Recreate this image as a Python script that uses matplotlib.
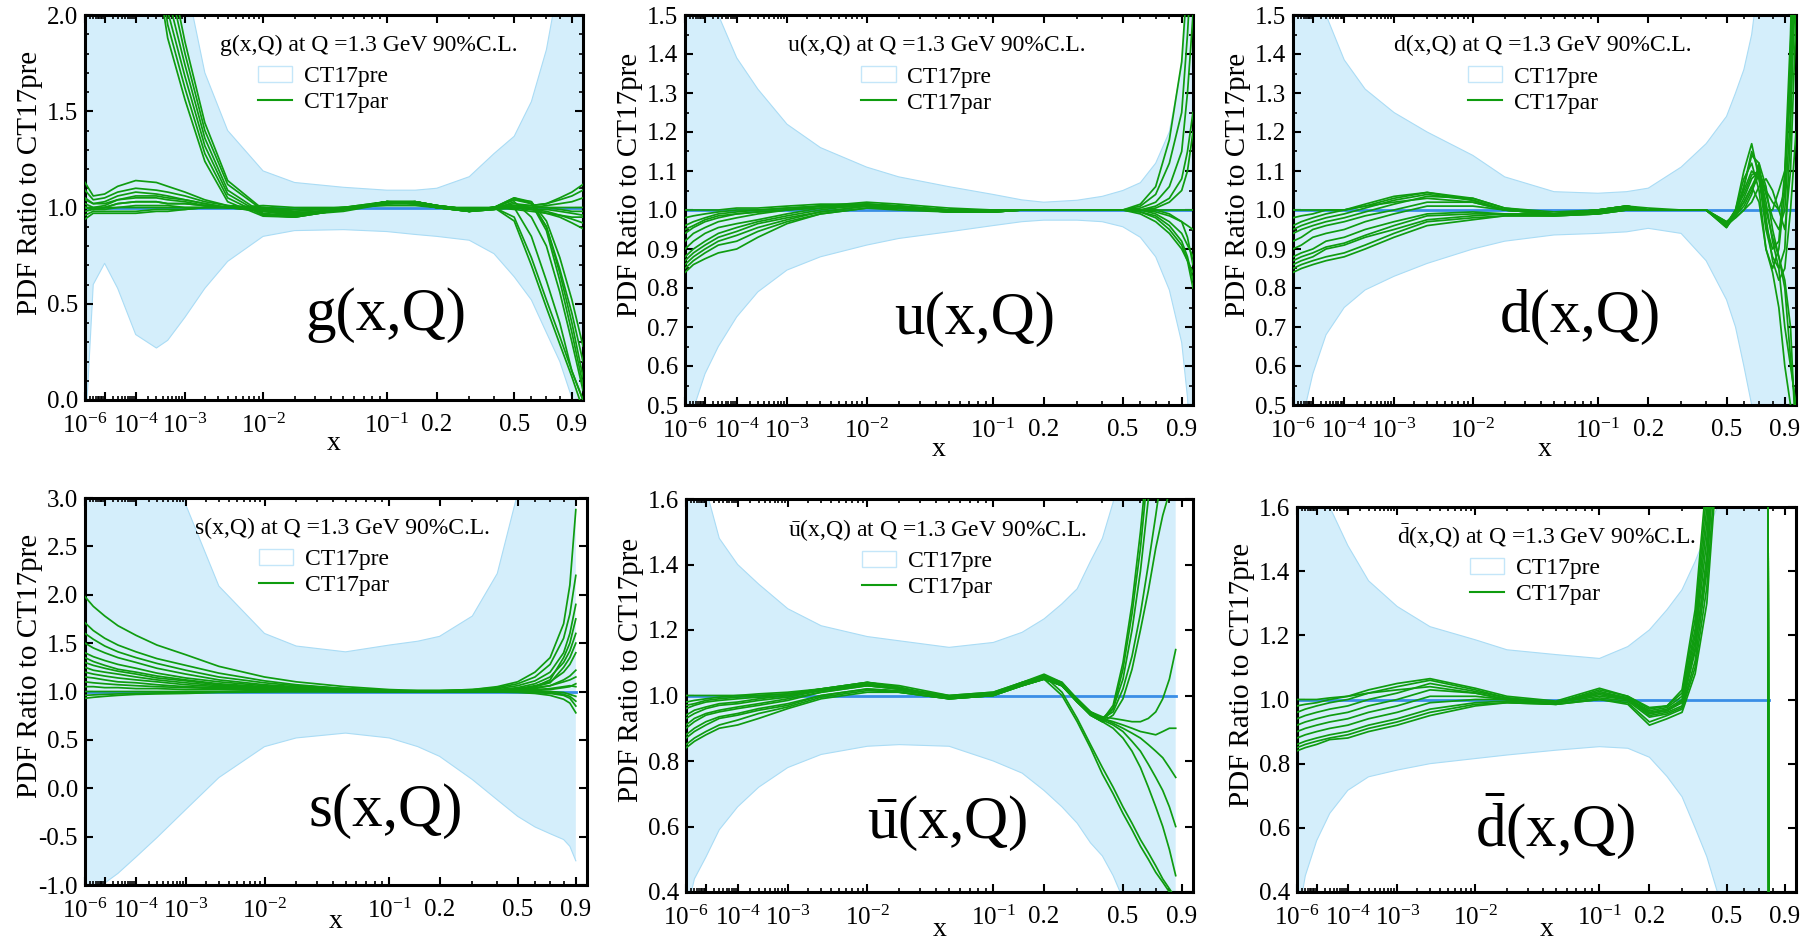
import numpy as np
import matplotlib
matplotlib.use("Agg")
import matplotlib.pyplot as plt
from matplotlib.patches import Patch
from matplotlib.lines import Line2D
from matplotlib.ticker import FixedLocator, FixedFormatter, MultipleLocator, FormatStrFormatter

plt.rcParams["font.family"] = ["Liberation Serif", "DejaVu Serif"]
plt.rcParams["mathtext.fontset"] = "custom"
plt.rcParams["mathtext.rm"] = "Liberation Serif"
plt.rcParams["mathtext.it"] = "Liberation Serif:italic"
plt.rcParams["mathtext.bf"] = "Liberation Serif:bold"
plt.rcParams["axes.unicode_minus"] = False

BAND = "#d4eefb"
BAND_EDGE = "#aadcf5"
GREEN = "#0f9c0f"
CENTRAL = "#3a8ee6"

# ---- gluon ----
X_G = [1e-6, 3e-6, 1e-5, 3e-5, 1e-4, 3e-4, 5e-4, 1e-3, 2e-3, 4e-3, 1e-2, 2e-2,
       5e-2, 0.1, 0.15, 0.2, 0.3, 0.4, 0.5, 0.6, 0.7, 0.8, 0.9, 1.0]
G_HI = [3.0, 3.0, 3.0, 3.0, 3.0, 3.0, 3.0, 2.2, 1.7, 1.4, 1.19, 1.13,
        1.105, 1.09, 1.09, 1.10, 1.16, 1.28, 1.37, 1.55, 1.82, 2.2, 3.0, 3.0]
G_LO = [-0.2, 0.6, 0.71, 0.58, 0.34, 0.27, 0.31, 0.43, 0.58, 0.72, 0.85, 0.88,
        0.885, 0.875, 0.86, 0.85, 0.83, 0.76, 0.64, 0.52, 0.35, 0.2, 0.01, -0.3]
G_PAR = [
    [1.13, 1.06, 1.07, 1.11, 1.14, 1.13, 1.11, 1.08, 1.04, 1.01, 0.99, 0.98, 1.0, 1.03, 1.03, 1.01, 0.99, 1.0, 1.02, 1.01, 1.02, 1.05, 1.08, 1.12],
    [1.09, 1.04, 1.05, 1.08, 1.10, 1.09, 1.08, 1.06, 1.03, 1.01, 1.0, 0.99, 1.0, 1.03, 1.03, 1.01, 0.99, 1.0, 1.01, 1.01, 1.02, 1.04, 1.06, 1.09],
    [1.05, 1.02, 1.03, 1.06, 1.08, 1.07, 1.06, 1.04, 1.02, 1.0, 0.99, 0.97, 0.99, 1.02, 1.03, 1.01, 0.98, 0.99, 1.01, 1.0, 1.01, 1.02, 1.03, 1.05],
    [1.02, 1.0, 1.01, 1.04, 1.05, 1.05, 1.04, 1.03, 1.01, 1.0, 0.98, 0.96, 0.98, 1.02, 1.03, 1.01, 0.98, 0.99, 1.0, 1.0, 1.0, 1.0, 1.0, 1.0],
    [1.0, 0.99, 1.0, 1.02, 1.03, 1.03, 1.02, 1.02, 1.01, 1.0, 0.98, 0.96, 0.99, 1.03, 1.03, 1.01, 0.99, 1.0, 1.0, 0.99, 0.99, 0.98, 0.97, 0.96],
    [0.98, 0.99, 0.99, 1.0, 1.01, 1.01, 1.01, 1.0, 1.0, 1.0, 0.99, 0.97, 0.99, 1.03, 1.03, 1.0, 0.99, 1.0, 1.0, 0.99, 0.98, 0.96, 0.94, 0.92],
    [0.96, 0.98, 0.98, 0.98, 0.98, 0.99, 0.99, 0.99, 1.0, 1.0, 1.0, 0.98, 1.0, 1.02, 1.02, 1.01, 0.99, 1.0, 1.0, 0.99, 0.97, 0.95, 0.92, 0.89],
    [0.94, 0.97, 0.97, 0.97, 0.97, 0.98, 0.98, 0.99, 1.0, 1.0, 1.01, 1.0, 1.0, 1.01, 1.01, 1.0, 1.0, 1.0, 0.99, 0.98, 0.97, 0.96, 0.95, 0.95],
    [1.0, 1.0, 1.0, 1.0, 1.0, 1.0, 1.0, 1.0, 1.0, 1.0, 1.0, 0.99, 1.0, 1.02, 1.02, 1.0, 0.99, 1.0, 1.01, 1.0, 1.0, 0.99, 0.98, 0.98],
    [1.0, 0.99, 1.0, 1.02, 1.03, 1.03, 1.02, 1.02, 1.01, 1.0, 0.99, 0.97, 0.99, 1.03, 1.03, 1.01, 0.99, 1.0, 0.93, 0.70, 0.48, 0.29, 0.12, -0.05],
    [1.04, 1.02, 1.02, 1.04, 1.06, 1.06, 1.05, 1.04, 1.02, 1.0, 0.99, 0.97, 0.99, 1.02, 1.03, 1.01, 0.99, 1.0, 0.95, 0.74, 0.52, 0.33, 0.15, 0.0],
    [6, 6, 6, 5, 3.6, 2.25, 1.88, 1.56, 1.24, 1.03, 0.955, 0.95, 0.99, 1.03, 1.025, 1.0, 0.98, 1.0, 1.05, 1.03, 0.90, 0.66, 0.40, 0.12],
    [6, 6, 6, 5, 3.8, 2.35, 1.95, 1.62, 1.28, 1.05, 0.96, 0.95, 0.99, 1.03, 1.02, 1.0, 0.98, 1.0, 1.05, 1.02, 0.88, 0.62, 0.35, 0.08],
    [6, 6, 6, 5.2, 4.0, 2.45, 2.02, 1.68, 1.32, 1.07, 0.965, 0.95, 0.99, 1.03, 1.02, 1.0, 0.98, 1.0, 1.04, 1.02, 0.9, 0.68, 0.45, 0.2],
    [6, 6, 6, 5.3, 4.1, 2.55, 2.1, 1.74, 1.36, 1.09, 0.97, 0.955, 0.99, 1.03, 1.02, 1.0, 0.98, 1.0, 1.04, 1.03, 0.93, 0.74, 0.52, 0.28],
    [6, 6, 6, 5.5, 4.3, 2.7, 2.2, 1.80, 1.40, 1.12, 0.985, 0.96, 0.99, 1.03, 1.02, 1.0, 0.98, 0.99, 1.03, 0.95, 0.80, 0.56, 0.30, 0.05],
    [6, 6, 6, 5.5, 4.4, 2.8, 2.3, 1.86, 1.44, 1.14, 0.99, 0.965, 0.99, 1.03, 1.02, 1.0, 0.98, 0.99, 1.0, 0.85, 0.62, 0.40, 0.15, 0.0],
]

# ---- u quark ----
X_U = [1e-6, 3e-6, 1e-5, 3e-5, 1e-4, 3e-4, 1e-3, 3e-3, 1e-2, 2e-2, 5e-2, 0.1,
       0.15, 0.2, 0.3, 0.4, 0.5, 0.6, 0.7, 0.8, 0.9, 0.95, 1.0]
U_HI = [1.9, 1.75, 1.62, 1.5, 1.39, 1.31, 1.22, 1.16, 1.11, 1.085, 1.06, 1.04,
        1.026, 1.02, 1.025, 1.035, 1.05, 1.07, 1.12, 1.2, 1.37, 1.55, 1.8]
U_LO = [0.3, 0.49, 0.58, 0.65, 0.726, 0.79, 0.846, 0.88, 0.91, 0.927, 0.944, 0.96,
        0.97, 0.974, 0.974, 0.97, 0.957, 0.93, 0.88, 0.795, 0.66, 0.52, 0.3]
U_PAR = [
    [0.84, 0.86, 0.875, 0.89, 0.9, 0.93, 0.965, 0.99, 1.005, 1.0, 0.995, 0.995, 1.0, 1.0, 1.0, 1.0, 1.0, 0.99, 0.97, 0.94, 0.9, 0.87, 0.84],
    [0.86, 0.88, 0.9, 0.92, 0.935, 0.955, 0.975, 0.995, 1.01, 1.005, 0.995, 0.995, 1.0, 1.0, 1.0, 1.0, 1.0, 1.0, 0.99, 0.97, 0.94, 0.91, 0.88],
    [0.88, 0.9, 0.92, 0.94, 0.955, 0.97, 0.985, 1.0, 1.015, 1.01, 1.0, 0.995, 1.0, 1.0, 1.0, 1.0, 1.0, 1.0, 0.995, 0.985, 0.97, 0.96, 0.95],
    [0.9, 0.92, 0.94, 0.955, 0.965, 0.975, 0.99, 1.005, 1.015, 1.01, 1.0, 0.995, 1.0, 1.0, 1.0, 1.0, 1.0, 1.0, 1.0, 1.0, 1.0, 1.0, 1.0],
    [0.92, 0.94, 0.955, 0.97, 0.98, 0.99, 1.0, 1.01, 1.02, 1.015, 1.005, 1.0, 1.0, 1.0, 1.0, 1.0, 1.0, 1.0, 1.01, 1.03, 1.08, 1.15, 1.25],
    [0.94, 0.955, 0.97, 0.98, 0.99, 0.995, 1.0, 1.01, 1.015, 1.01, 1.0, 1.0, 1.0, 1.0, 1.0, 1.0, 1.0, 1.005, 1.02, 1.06, 1.15, 1.3, 1.5],
    [0.96, 0.97, 0.98, 0.99, 0.995, 1.0, 1.005, 1.01, 1.01, 1.005, 1.0, 1.0, 1.0, 1.0, 1.0, 1.0, 1.0, 1.01, 1.04, 1.12, 1.25, 1.45, 1.7],
    [0.98, 0.985, 0.99, 0.995, 1.0, 1.0, 1.005, 1.01, 1.01, 1.005, 1.0, 1.0, 1.0, 1.0, 1.0, 1.0, 1.0, 1.015, 1.06, 1.18, 1.38, 1.6, 1.9],
    [1.0, 1.0, 1.0, 1.0, 1.005, 1.005, 1.01, 1.015, 1.015, 1.01, 1.0, 1.0, 1.0, 1.0, 1.0, 1.0, 1.0, 1.0, 1.0, 0.99, 0.97, 0.93, 0.86],
    [0.85, 0.87, 0.89, 0.91, 0.92, 0.945, 0.97, 0.99, 1.005, 1.005, 0.995, 0.995, 1.0, 1.0, 1.0, 1.0, 1.0, 0.995, 0.985, 0.96, 0.92, 0.88, 0.82],
    [0.87, 0.89, 0.91, 0.93, 0.945, 0.965, 0.98, 0.995, 1.01, 1.005, 0.995, 0.995, 1.0, 1.0, 1.0, 1.0, 1.0, 1.0, 1.005, 1.02, 1.05, 1.1, 1.2],
    [0.95, 0.96, 0.975, 0.985, 0.99, 0.995, 1.0, 1.005, 1.01, 1.005, 1.0, 1.0, 1.0, 1.0, 1.0, 1.0, 1.0, 0.995, 0.98, 0.95, 0.91, 0.87, 0.8],
]

# ---- d quark ----
X_D = [1e-6, 3e-6, 1e-5, 3e-5, 1e-4, 3e-4, 1e-3, 3e-3, 1e-2, 2e-2, 5e-2, 0.1, 0.15,
       0.2, 0.3, 0.4, 0.5, 0.55, 0.6, 0.65, 0.7, 0.75, 0.8, 0.85, 0.9, 0.95, 1.0]
D_HI = [2.0, 1.8, 1.6, 1.5, 1.385, 1.31, 1.25, 1.2, 1.14, 1.085, 1.047, 1.043, 1.047,
        1.056, 1.11, 1.17, 1.24, 1.3, 1.36, 1.45, 1.6, 1.8, 2.0, 2.0, 2.0, 2.0, 2.0]
D_LO = [0.3, 0.452, 0.58, 0.68, 0.75, 0.795, 0.83, 0.863, 0.90, 0.92, 0.936, 0.94, 0.944,
        0.953, 0.94, 0.87, 0.77, 0.7, 0.6, 0.5, 0.4, 0.3, 0.2, 0.1, 0.0, 0.0, 0.0]
D_PAR = [
    [0.84, 0.85, 0.86, 0.87, 0.88, 0.9, 0.93, 0.96, 0.975, 0.985, 0.985, 0.99, 1.0, 1.0, 1.0, 1.0, 0.96, 1.0, 1.08, 1.12, 1.05, 0.9, 0.85, 0.9, 1.05, 1.4, 2.0],
    [0.86, 0.87, 0.88, 0.9, 0.91, 0.93, 0.95, 0.975, 0.985, 0.99, 0.985, 0.99, 1.0, 1.0, 1.0, 1.0, 0.955, 0.99, 1.05, 1.1, 1.08, 0.95, 0.88, 0.85, 0.9, 1.2, 1.8],
    [0.88, 0.89, 0.9, 0.92, 0.93, 0.95, 0.97, 0.99, 0.995, 0.99, 0.99, 0.995, 1.005, 1.0, 1.0, 1.0, 0.96, 0.985, 1.02, 1.06, 1.1, 1.02, 0.92, 0.85, 0.7, 0.6, 0.5],
    [0.9, 0.91, 0.93, 0.94, 0.95, 0.97, 0.99, 1.01, 1.01, 1.0, 0.99, 0.995, 1.01, 1.0, 1.0, 1.0, 0.96, 0.98, 1.0, 1.04, 1.12, 1.06, 0.95, 0.88, 0.82, 0.7, 0.4],
    [0.92, 0.93, 0.95, 0.96, 0.97, 0.985, 1.0, 1.02, 1.02, 1.0, 0.99, 1.0, 1.01, 1.0, 1.0, 1.0, 0.965, 1.0, 1.1, 1.17, 1.08, 1.0, 1.0, 1.05, 1.1, 1.3, 1.7],
    [0.94, 0.95, 0.96, 0.97, 0.98, 0.995, 1.015, 1.035, 1.03, 1.005, 0.99, 1.0, 1.01, 1.0, 1.0, 1.0, 0.97, 0.99, 1.03, 1.08, 1.1, 1.04, 0.98, 0.95, 1.0, 1.25, 1.6],
    [0.96, 0.97, 0.98, 0.99, 1.0, 1.01, 1.03, 1.045, 1.03, 1.005, 0.995, 1.0, 1.01, 1.005, 1.0, 1.0, 0.97, 0.98, 1.0, 1.02, 1.06, 1.08, 1.05, 1.0, 0.95, 1.1, 1.5],
    [0.98, 0.985, 0.99, 1.0, 1.0, 1.015, 1.035, 1.045, 1.025, 1.0, 0.99, 1.0, 1.01, 1.0, 1.0, 1.0, 0.965, 0.99, 1.06, 1.14, 1.12, 0.98, 0.87, 0.82, 0.85, 1.0, 1.2],
    [1.0, 1.0, 1.0, 1.0, 1.0, 1.01, 1.02, 1.03, 1.02, 1.0, 0.99, 0.995, 1.005, 1.0, 1.0, 1.0, 0.96, 1.0, 1.04, 1.09, 1.1, 1.05, 1.02, 1.0, 1.05, 1.35, 1.9],
    [0.85, 0.86, 0.87, 0.88, 0.89, 0.91, 0.94, 0.97, 0.98, 0.985, 0.985, 0.99, 1.0, 1.0, 1.0, 1.0, 0.955, 0.99, 1.02, 1.06, 1.02, 0.9, 0.84, 0.75, 0.6, 0.5, 0.45],
    [0.87, 0.88, 0.89, 0.905, 0.915, 0.935, 0.96, 0.985, 0.99, 0.99, 0.988, 0.995, 1.005, 1.0, 1.0, 1.0, 0.958, 0.995, 1.06, 1.15, 1.1, 0.96, 0.9, 0.92, 1.1, 1.45, 2.0],
    [0.95, 0.96, 0.97, 0.98, 0.99, 1.005, 1.025, 1.04, 1.025, 1.0, 0.99, 1.0, 1.01, 1.0, 1.0, 1.0, 0.968, 0.985, 1.01, 1.05, 1.09, 1.0, 0.93, 0.88, 0.8, 0.62, 0.48],
]

# ---- strange ----
X_S = [1e-6, 3e-6, 1e-5, 3e-5, 1e-4, 3e-4, 1e-3, 3e-3, 1e-2, 2e-2, 5e-2, 0.1,
       0.15, 0.2, 0.3, 0.4, 0.5, 0.6, 0.7, 0.8, 0.85, 0.9]
S_HI = [5, 5, 5, 5, 5, 5, 2.93, 2.09, 1.60, 1.47, 1.41, 1.48,
        1.52, 1.57, 1.78, 2.22, 3.05, 4, 5, 5, 5, 5]
S_LO = [-1.35, -1.15, -0.98, -0.88, -0.71, -0.51, -0.22, 0.11, 0.43, 0.52, 0.57, 0.52,
        0.43, 0.33, 0.09, -0.12, -0.29, -0.40, -0.47, -0.53, -0.6, -0.75]
S_PAR = [
    [1.98, 1.88, 1.78, 1.68, 1.58, 1.48, 1.38, 1.26, 1.15, 1.1, 1.05, 1.02, 1.01, 1.01, 1.02, 1.05, 1.1, 1.2, 1.35, 1.7, 2.1, 2.88],
    [1.71, 1.63, 1.55, 1.48, 1.41, 1.34, 1.27, 1.19, 1.11, 1.07, 1.03, 1.01, 1.01, 1.01, 1.02, 1.04, 1.08, 1.15, 1.28, 1.55, 1.8, 2.2],
    [1.6, 1.54, 1.47, 1.41, 1.35, 1.29, 1.22, 1.15, 1.09, 1.06, 1.03, 1.01, 1.0, 1.0, 1.01, 1.03, 1.06, 1.11, 1.2, 1.4, 1.6, 1.9],
    [1.5, 1.45, 1.4, 1.35, 1.3, 1.24, 1.18, 1.12, 1.07, 1.05, 1.02, 1.01, 1.0, 1.0, 1.01, 1.02, 1.04, 1.08, 1.15, 1.3, 1.42, 1.6],
    [1.4, 1.36, 1.32, 1.28, 1.24, 1.19, 1.14, 1.1, 1.06, 1.04, 1.02, 1.0, 1.0, 1.0, 1.0, 1.01, 1.03, 1.06, 1.1, 1.2, 1.28, 1.4],
    [1.35, 1.31, 1.27, 1.23, 1.2, 1.16, 1.12, 1.08, 1.05, 1.03, 1.01, 1.0, 1.0, 1.0, 1.0, 1.01, 1.02, 1.05, 1.12, 1.35, 1.5, 1.75],
    [1.3, 1.27, 1.24, 1.21, 1.18, 1.14, 1.11, 1.07, 1.04, 1.03, 1.01, 1.0, 1.0, 1.0, 1.0, 1.01, 1.02, 1.04, 1.06, 1.12, 1.16, 1.22],
    [1.25, 1.22, 1.2, 1.18, 1.15, 1.12, 1.09, 1.06, 1.035, 1.025, 1.01, 1.0, 1.0, 1.0, 1.0, 1.01, 1.02, 1.05, 1.09, 1.25, 1.35, 1.5],
    [1.2, 1.18, 1.16, 1.14, 1.12, 1.1, 1.07, 1.05, 1.03, 1.02, 1.01, 1.0, 1.0, 1.0, 1.0, 1.0, 1.01, 1.02, 1.03, 1.05, 1.06, 1.05],
    [1.15, 1.14, 1.12, 1.1, 1.09, 1.07, 1.05, 1.04, 1.02, 1.01, 1.0, 1.0, 1.0, 1.0, 1.0, 1.0, 1.01, 1.03, 1.06, 1.1, 1.12, 1.15],
    [1.1, 1.09, 1.08, 1.07, 1.06, 1.05, 1.04, 1.03, 1.02, 1.01, 1.0, 1.0, 1.0, 1.0, 1.0, 1.0, 1.0, 1.0, 1.0, 0.99, 0.97, 0.95],
    [1.05, 1.05, 1.04, 1.04, 1.03, 1.03, 1.02, 1.02, 1.01, 1.0, 1.0, 1.0, 1.0, 1.0, 1.0, 1.0, 1.0, 1.01, 1.02, 1.04, 1.05, 1.08],
    [1.0, 1.0, 1.0, 1.0, 1.0, 1.0, 1.0, 1.0, 1.0, 1.0, 1.0, 1.0, 1.0, 1.0, 1.0, 1.0, 1.0, 1.0, 0.99, 0.97, 0.95, 0.9],
    [0.96, 0.965, 0.97, 0.975, 0.98, 0.985, 0.99, 0.995, 1.0, 1.0, 1.0, 1.0, 1.0, 1.0, 1.0, 1.0, 0.995, 0.99, 0.98, 0.96, 0.93, 0.85],
    [0.93, 0.94, 0.95, 0.96, 0.97, 0.975, 0.98, 0.99, 0.995, 1.0, 1.0, 1.0, 1.0, 1.0, 1.0, 0.995, 0.99, 0.98, 0.96, 0.92, 0.88, 0.78],
]

# ---- u-bar ----
X_UB = [1e-6, 3e-6, 1e-5, 3e-5, 1e-4, 3e-4, 1e-3, 3e-3, 1e-2, 2e-2, 5e-2, 0.1, 0.15, 0.2,
        0.25, 0.3, 0.35, 0.4, 0.45, 0.5, 0.55, 0.6, 0.65, 0.7, 0.75, 0.8, 0.85]
UB_HI = [2.0, 1.85, 1.63, 1.48, 1.40, 1.34, 1.265, 1.213, 1.18, 1.167, 1.147, 1.162, 1.193, 1.234,
         1.28, 1.326, 1.41, 1.48, 1.59, 1.75, 2.0, 2.0, 2.0, 2.0, 2.0, 2.0, 2.0]
UB_LO = [0.33, 0.44, 0.507, 0.59, 0.66, 0.72, 0.78, 0.82, 0.845, 0.85, 0.845, 0.80, 0.763, 0.71,
         0.66, 0.61, 0.55, 0.51, 0.45, 0.38, 0.3, 0.2, 0.1, 0.0, 0.0, 0.0, 0.0]
UB_PAR = [
    [0.84, 0.86, 0.88, 0.9, 0.91, 0.93, 0.96, 0.99, 1.01, 1.01, 0.99, 1.0, 1.03, 1.05, 1.03, 0.99, 0.95, 0.93, 0.96, 1.05, 1.2, 1.38, 1.6, 1.9, 2.2, 2.5, 2.8],
    [0.87, 0.89, 0.91, 0.93, 0.94, 0.955, 0.97, 1.0, 1.02, 1.015, 0.995, 1.005, 1.035, 1.055, 1.03, 0.985, 0.945, 0.925, 0.97, 1.1, 1.28, 1.5, 1.75, 2.0, 2.3, 2.6, 2.9],
    [0.9, 0.92, 0.94, 0.95, 0.96, 0.97, 0.985, 1.01, 1.03, 1.02, 1.0, 1.01, 1.04, 1.06, 1.04, 0.99, 0.95, 0.93, 0.95, 1.02, 1.12, 1.25, 1.4, 1.55, 1.7, 1.9, 2.1],
    [0.93, 0.945, 0.96, 0.97, 0.975, 0.985, 0.995, 1.015, 1.035, 1.02, 0.995, 1.005, 1.04, 1.065, 1.04, 0.985, 0.94, 0.92, 0.94, 0.99, 1.08, 1.2, 1.32, 1.45, 1.55, 1.62, 1.7],
    [0.96, 0.97, 0.98, 0.985, 0.99, 0.995, 1.0, 1.02, 1.04, 1.03, 1.0, 1.01, 1.04, 1.06, 1.035, 0.98, 0.94, 0.92, 0.96, 1.08, 1.25, 1.45, 1.7, 2.0, 2.3, 2.6, 2.9],
    [0.98, 0.985, 0.99, 0.995, 1.0, 1.0, 1.005, 1.02, 1.04, 1.025, 0.99, 1.0, 1.03, 1.05, 1.03, 0.98, 0.945, 0.93, 0.92, 0.91, 0.9, 0.89, 0.885, 0.88, 0.89, 0.9, 0.9],
    [1.0, 1.0, 1.0, 1.0, 1.0, 1.005, 1.01, 1.02, 1.03, 1.02, 0.995, 1.005, 1.03, 1.05, 1.03, 0.985, 0.95, 0.935, 0.93, 0.925, 0.92, 0.92, 0.93, 0.95, 0.99, 1.05, 1.14],
    [0.85, 0.87, 0.89, 0.91, 0.925, 0.945, 0.965, 0.995, 1.015, 1.01, 0.99, 1.0, 1.03, 1.05, 1.0, 0.92, 0.84, 0.76, 0.70, 0.64, 0.59, 0.54, 0.50, 0.46, 0.43, 0.40, 0.36],
    [0.88, 0.9, 0.92, 0.935, 0.945, 0.96, 0.975, 1.0, 1.02, 1.01, 0.99, 1.0, 1.035, 1.06, 1.01, 0.93, 0.85, 0.78, 0.72, 0.66, 0.61, 0.56, 0.52, 0.48, 0.44, 0.41, 0.38],
    [0.91, 0.93, 0.945, 0.955, 0.965, 0.975, 0.99, 1.01, 1.03, 1.02, 0.995, 1.005, 1.035, 1.055, 1.03, 0.98, 0.94, 0.92, 0.9, 0.87, 0.83, 0.78, 0.72, 0.66, 0.6, 0.53, 0.45],
    [0.94, 0.955, 0.965, 0.975, 0.98, 0.99, 1.0, 1.015, 1.035, 1.02, 0.995, 1.005, 1.035, 1.055, 1.03, 0.98, 0.945, 0.925, 0.91, 0.89, 0.86, 0.83, 0.79, 0.75, 0.71, 0.66, 0.6],
    [0.97, 0.975, 0.985, 0.99, 0.995, 1.0, 1.005, 1.02, 1.04, 1.025, 0.995, 1.005, 1.035, 1.06, 1.035, 0.985, 0.945, 0.93, 0.915, 0.9, 0.885, 0.87, 0.85, 0.83, 0.81, 0.78, 0.75],
]

# ---- d-bar ----
X_DB = [1e-6, 3e-6, 1e-5, 3e-5, 1e-4, 3e-4, 1e-3, 3e-3, 1e-2, 2e-2, 5e-2, 0.1, 0.15,
        0.2, 0.25, 0.3, 0.35, 0.4, 0.45, 0.5, 0.6, 0.7, 0.75, 0.76, 0.77]
DB_HI = [2.0, 1.85, 1.7, 1.6, 1.48, 1.37, 1.29, 1.227, 1.186, 1.155, 1.14, 1.128, 1.165,
         1.217, 1.28, 1.342, 1.43, 1.52, 1.6, 1.75, 2.0, 2.0, 2.0, 2.0, 2.0]
DB_LO = [0.3, 0.45, 0.56, 0.645, 0.717, 0.759, 0.78, 0.80, 0.816, 0.827, 0.842, 0.853, 0.848,
         0.82, 0.76, 0.697, 0.6, 0.51, 0.4, 0.3, 0.1, 0.0, 0.0, 0.0, 0.0]
DB_PAR = [
    [0.84, 0.85, 0.86, 0.875, 0.88, 0.9, 0.92, 0.95, 0.98, 0.99, 0.985, 1.0, 0.99, 0.93, 0.95, 0.97, 1.1, 1.35, 1.8, 2.3, 3, 3, 3, 2.6, 0.0],
    [0.86, 0.87, 0.88, 0.89, 0.9, 0.92, 0.94, 0.97, 0.99, 0.995, 0.985, 1.005, 0.995, 0.945, 0.955, 0.975, 1.12, 1.4, 1.9, 2.4, 3, 3, 3, 2.6, 0.0],
    [0.88, 0.89, 0.9, 0.91, 0.92, 0.94, 0.96, 0.99, 1.0, 1.0, 0.99, 1.01, 1.0, 0.95, 0.96, 0.98, 1.15, 1.45, 1.95, 2.5, 3, 3, 3, 2.6, 0.0],
    [0.9, 0.91, 0.92, 0.93, 0.94, 0.96, 0.98, 1.01, 1.01, 1.0, 0.99, 1.015, 1.0, 0.955, 0.965, 0.99, 1.18, 1.5, 2.0, 2.5, 3, 3, 3, 2.6, 0.0],
    [0.92, 0.93, 0.94, 0.95, 0.96, 0.98, 1.0, 1.03, 1.02, 1.0, 0.99, 1.02, 1.005, 0.96, 0.97, 1.0, 1.2, 1.55, 2.05, 2.6, 3, 3, 3, 2.6, 0.0],
    [0.94, 0.95, 0.96, 0.97, 0.98, 1.0, 1.02, 1.05, 1.025, 1.005, 0.99, 1.025, 1.005, 0.965, 0.975, 1.01, 1.22, 1.6, 2.1, 2.6, 3, 3, 3, 2.6, 0.0],
    [0.96, 0.97, 0.98, 0.99, 1.0, 1.02, 1.04, 1.06, 1.03, 1.005, 0.99, 1.03, 1.01, 0.97, 0.98, 1.02, 1.25, 1.65, 2.2, 2.7, 3, 3, 3, 2.6, 0.0],
    [0.98, 0.985, 0.99, 1.0, 1.01, 1.03, 1.05, 1.065, 1.035, 1.01, 0.995, 1.035, 1.01, 0.975, 0.98, 1.03, 1.28, 1.7, 2.2, 2.7, 3, 3, 3, 2.6, 0.0],
    [1.0, 1.0, 1.0, 1.005, 1.01, 1.02, 1.03, 1.04, 1.02, 1.0, 0.99, 1.02, 1.0, 0.96, 0.965, 0.995, 1.16, 1.42, 1.9, 2.4, 3, 3, 3, 2.6, 0.0],
    [0.85, 0.86, 0.87, 0.88, 0.89, 0.91, 0.93, 0.96, 0.985, 0.99, 0.985, 1.0, 0.985, 0.92, 0.94, 0.96, 1.08, 1.3, 1.75, 2.2, 3, 3, 3, 2.6, 0.0],
]

# x axis ticks shared by all panels
X_MAJOR = [1e-6, 1e-5, 1e-4, 1e-3, 1e-2, 0.1, 0.2, 0.5, 0.9]
X_MAJOR_LABELS = [r"$10^{-6}$", "", r"$10^{-4}$", r"$10^{-3}$", r"$10^{-2}$",
                  r"$10^{-1}$", "0.2", "0.5", "0.9"]
X_MINOR = [m * 10.0 ** e for e in range(-6, -1) for m in range(2, 10)] + [0.3, 0.4, 0.6, 0.7, 0.8, 1.0]

# axes boxes in pixels: left, top, right, bottom
FIG_W, FIG_H = 1809, 940
BOXES = [(85, 15, 583, 400), (685, 15, 1193, 405), (1293, 15, 1796, 405),
         (85, 498, 587, 885), (686, 499, 1193, 892), (1297, 507, 1796, 892)]

PANELS = [
    dict(x=X_G, hi=G_HI, lo=G_LO, par=G_PAR, ylim=(0.0, 2.0), major=0.5, minor=0.1,
         name="g(x,Q)", title="g(x,Q) at Q =1.3 GeV 90%C.L.", name_xy=(0.605, 0.22), title_x=0.57),
    dict(x=X_U, hi=U_HI, lo=U_LO, par=U_PAR, ylim=(0.5, 1.5), major=0.1, minor=0.05,
         name="u(x,Q)", title="u(x,Q) at Q =1.3 GeV 90%C.L.", name_xy=(0.57, 0.22), title_x=0.496),
    dict(x=X_D, hi=D_HI, lo=D_LO, par=D_PAR, ylim=(0.5, 1.5), major=0.1, minor=0.05,
         name="d(x,Q)", title="d(x,Q) at Q =1.3 GeV 90%C.L.", name_xy=(0.572, 0.225), title_x=0.497),
    dict(x=X_S, hi=S_HI, lo=S_LO, par=S_PAR, ylim=(-1.0, 3.0), major=0.5, minor=None,
         name="s(x,Q)", title="s(x,Q) at Q =1.3 GeV 90%C.L.", name_xy=(0.598, 0.19), title_x=0.513),
    dict(x=X_UB, hi=UB_HI, lo=UB_LO, par=UB_PAR, ylim=(0.4, 1.6), major=0.2, minor=None,
         name=r"$\bar{\mathrm{u}}$(x,Q)", title=r"$\bar{\mathrm{u}}$(x,Q) at Q =1.3 GeV 90%C.L.",
         name_xy=(0.515, 0.175), title_x=0.496),
    dict(x=X_DB, hi=DB_HI, lo=DB_LO, par=DB_PAR, ylim=(0.4, 1.6), major=0.2, minor=None,
         name=r"$\bar{\mathrm{d}}$(x,Q)", title=r"$\bar{\mathrm{d}}$(x,Q) at Q =1.3 GeV 90%C.L.",
         name_xy=(0.518, 0.17), title_x=0.5),
]


def _fwd(x):
    return np.power(np.clip(x, 1e-12, None), 0.2)


def _inv(y):
    return np.power(np.clip(y, 0.0, None), 5.0)


def draw_panel(ax, p, width_px, height_px, bottom_row):
    ax.set_xscale("function", functions=(_fwd, _inv))
    ax.set_xlim(1e-6, 1.0)
    ax.set_ylim(*p["ylim"])

    ax.fill_between(p["x"], p["lo"], p["hi"], facecolor=BAND, edgecolor="none", zorder=1)
    ax.plot(p["x"], p["hi"], color=BAND_EDGE, lw=0.8, zorder=1.5)
    ax.plot(p["x"], p["lo"], color=BAND_EDGE, lw=0.8, zorder=1.5)
    ax.plot([p["x"][0], p["x"][-1]], [1.0, 1.0], color=CENTRAL, lw=2.0, zorder=2)
    for curve in p["par"]:
        ax.plot(p["x"], curve, color=GREEN, lw=1.25, zorder=3)

    ax.xaxis.set_major_locator(FixedLocator(X_MAJOR))
    ax.xaxis.set_major_formatter(FixedFormatter(X_MAJOR_LABELS))
    ax.xaxis.set_minor_locator(FixedLocator(X_MINOR))
    ax.yaxis.set_major_locator(MultipleLocator(p["major"]))
    ax.yaxis.set_major_formatter(FormatStrFormatter("%.1f"))
    if p["minor"]:
        ax.yaxis.set_minor_locator(MultipleLocator(p["minor"]))
    else:
        ax.yaxis.set_minor_locator(FixedLocator([]))

    ax.tick_params(which="both", direction="in", top=True, right=True, labelsize=18)
    ax.tick_params(which="major", length=6, width=1.5)
    ax.tick_params(which="minor", length=3, width=1.2)
    ax.tick_params(axis="x", which="major", pad=10)
    ax.tick_params(axis="y", which="major", pad=5)
    for sp in ax.spines.values():
        sp.set_linewidth(2.2)

    ax.set_xlabel("x", fontsize=20, va="center")
    ax.set_ylabel("PDF Ratio to CT17pre", fontsize=21, va="center")
    # label centres measured in pixels from the spines
    x_drop = 37 if bottom_row else 44
    ax.xaxis.set_label_coords(0.5, -x_drop / height_px)
    ax.yaxis.set_label_coords(-55 / width_px, 0.565)

    ax.text(p["title_x"], 0.922, p["title"], transform=ax.transAxes,
            ha="center", va="center", fontsize=17, zorder=5)
    ax.text(p["name_xy"][0], p["name_xy"][1], p["name"], transform=ax.transAxes,
            ha="center", va="center", fontsize=44, zorder=5)

    handles = [Patch(facecolor="white", edgecolor="#c4e6f9", lw=1.0),
               Line2D([], [], color=GREEN, lw=1.5)]
    ax.legend(handles, ["CT17pre", "CT17par"], loc="upper left",
              bbox_to_anchor=(0.347, 0.868), frameon=False, fontsize=17,
              handlelength=1.45, handleheight=0.65, handletextpad=0.5,
              labelspacing=0.2, borderpad=0.0, borderaxespad=0.0)


fig = plt.figure(figsize=(FIG_W / 100, FIG_H / 100), dpi=100)
for i, (box, panel) in enumerate(zip(BOXES, PANELS)):
    l, t, r, b = box
    ax = fig.add_axes([l / FIG_W, 1 - b / FIG_H, (r - l) / FIG_W, (b - t) / FIG_H])
    draw_panel(ax, panel, r - l, b - t, i >= 3)

fig.savefig("out.png", dpi=100)
